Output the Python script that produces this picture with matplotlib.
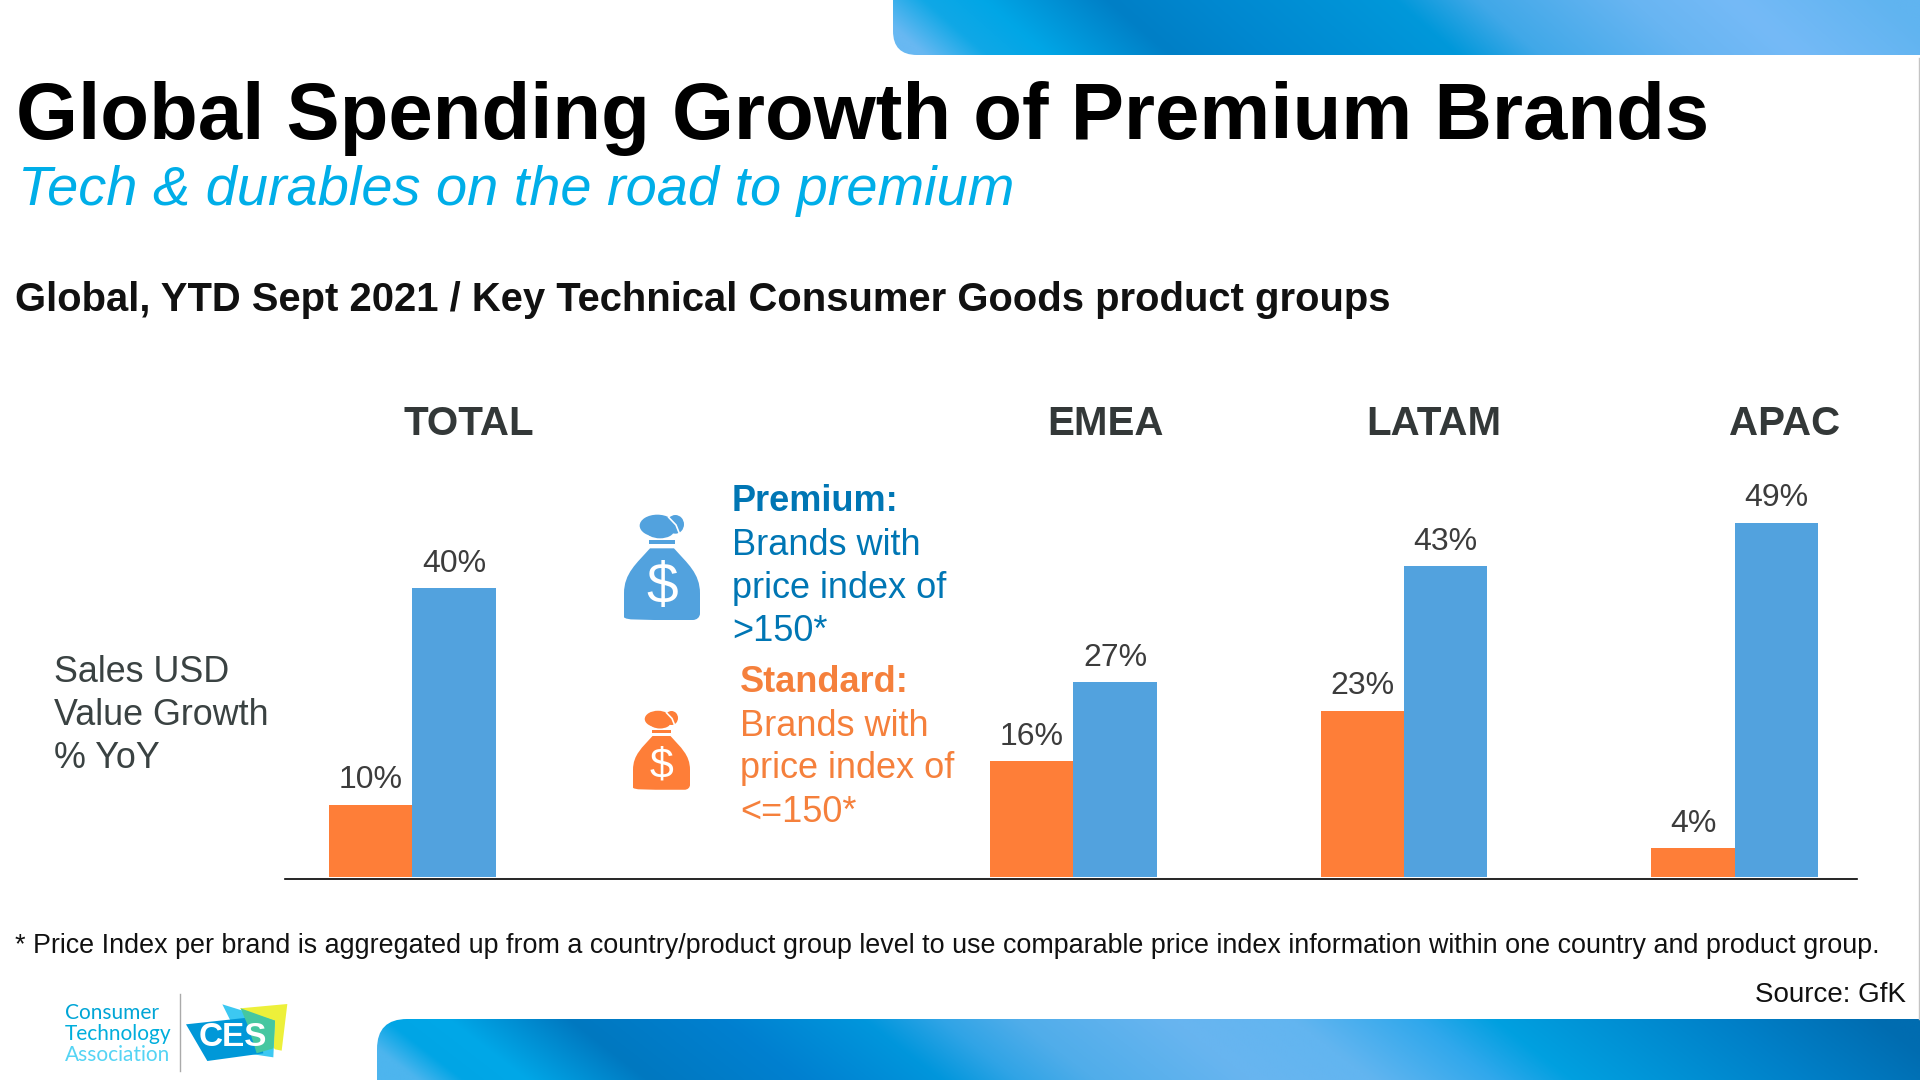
import matplotlib
matplotlib.use('Agg')
import matplotlib.pyplot as plt
import numpy as np
from matplotlib.patches import FancyBboxPatch, PathPatch, Polygon, Ellipse, Rectangle
from matplotlib.path import Path

plt.rcParams['font.family'] = ['Liberation Sans', 'DejaVu Sans']

# chart values
categories = ['TOTAL', '', 'EMEA', 'LATAM', 'APAC']
standard = [10, None, 16, 23, 4]
premium = [40, None, 27, 43, 49]

ORANGE = '#FE7E38'
BLUE = '#52A2DE'
W, H = 1920, 1080

fig = plt.figure(figsize=(19.2, 10.8), dpi=100, facecolor='white')

# overlay in pixel coords for slide furniture
bg = fig.add_axes([0, 0, 1, 1])
bg.set_xlim(0, W)
bg.set_ylim(H, 0)
bg.axis('off')


def band(x0, y0, x1, y1, radius, stops, skew, box_y0, box_y1):
    # gradient strip clipped to a rounded box that runs off the slide
    xs = np.linspace(0, 1, 500)
    ys = np.linspace(0, 1, 40)
    xx, yy = np.meshgrid(xs, ys)
    t = np.clip(xx - skew * (yy - 0.5), 0, 1)
    pos = [s[0] for s in stops]
    rgb = [matplotlib.colors.to_rgb(s[1]) for s in stops]
    img = np.dstack([np.interp(t, pos, [c[i] for c in rgb]) for i in range(3)])
    im = bg.imshow(img, extent=[x0, x1, y1, y0], aspect='auto', zorder=1, interpolation='bilinear')
    box = FancyBboxPatch((x0 + radius, box_y0 + radius), x1 - x0 + 60, box_y1 - box_y0 - 2 * radius,
                         boxstyle='round,pad=%d,rounding_size=%d' % (radius, radius),
                         transform=bg.transData, fc='none', ec='none')
    bg.add_patch(box)
    im.set_clip_path(box)


top_stops = [(0, '#68B8F2'), (0.06, '#10A8E6'), (0.12, '#00A6E6'), (0.24, '#007FC6'), (0.34, '#0088D0'),
             (0.52, '#0098DA'), (0.6, '#40A8E8'), (0.75, '#68B5F2'), (0.85, '#75BAF7'), (1, '#60B4F0')]
bottom_stops = [(0, '#4DB5EE'), (0.03, '#00A5E5'), (0.07, '#00A8E8'), (0.15, '#0078C0'), (0.25, '#0080D0'),
                (0.34, '#0096DC'), (0.39, '#30A4E6'), (0.44, '#50ADEA'), (0.54, '#68B5F0'), (0.62, '#62B5F0'),
                (0.7, '#30A8EC'), (0.75, '#00A0E0'), (0.9, '#0080C8'), (1, '#006CB0')]
band(893, 0, W, 55, 24, top_stops, 0.06, -60, 55)
band(377, 1019, W, H, 30, bottom_stops, 0.05, 1019, 1140)
bg.set_xlim(0, W)
bg.set_ylim(H, 0)
bg.plot([1918.5, 1918.5], [58, 1019], color='#C4C4C4', lw=1)

# headings
bg.text(16, 139, 'Global Spending Growth of Premium Brands', fontsize=57.4, fontweight='bold', color='black')
bg.text(18, 205, 'Tech & durables on the road to premium', fontsize=40.3, style='italic', color='#00AEE8')
bg.text(15, 311, 'Global, YTD Sept 2021 / Key Technical Consumer Goods product groups',
        fontsize=28.8, fontweight='bold', color='#111111')

# group titles are not quite centred over the bars in the original
title_x = [469, None, 1106, 1434, 1785]
for name, tx in zip(categories, title_x):
    if name:
        bg.text(tx, 435, name, fontsize=29, fontweight='bold', color='#333838', ha='center')

# axis caption
for line, y in zip(['Sales USD', 'Value Growth', '% YoY'], [682, 725, 768]):
    bg.text(54, y, line, fontsize=25.8, color='#3A4242')

# legend copy
prem_lines = ['Premium:', 'Brands with', 'price index of', '>150*']
std_lines = ['Standard:', 'Brands with', 'price index of', '<=150*']
for i, (line, y) in enumerate(zip(prem_lines, [511, 555, 598, 641])):
    bg.text(732, y, line, fontsize=26, color='#0076B4', fontweight='bold' if i == 0 else 'normal')
for i, (line, y) in enumerate(zip(std_lines, [692, 736, 778, 822])):
    bg.text(740, y, line, fontsize=26, color='#F5803C', fontweight='bold' if i == 0 else 'normal')


def money_bag(ox, oy, k, color, fs):
    # outline traced on a 3x crop, k scales it
    def p(x, y):
        return (ox + k * x, oy + k * y)
    verts = [p(150, 205), p(222, 205),
             p(262, 250), p(300, 280), p(300, 340),
             p(300, 370), p(300, 385), p(300, 400),
             p(300, 412), p(290, 420), p(278, 420),
             p(95, 420),
             p(82, 420), p(72, 412), p(72, 400),
             p(72, 385), p(72, 370), p(72, 340),
             p(72, 280), p(110, 250), p(150, 205)]
    codes = [Path.MOVETO, Path.LINETO] + [Path.CURVE4] * 12 + [Path.LINETO] + [Path.CURVE4] * 6
    bg.add_patch(PathPatch(Path(verts, codes), fc=color, ec='none', zorder=3))
    bg.add_patch(Rectangle(p(148, 180), 76 * k, 12 * k, fc=color, ec='none', zorder=3))
    bg.add_patch(Ellipse(p(172, 137), 106 * k, 66 * k, fc=color, ec='none', zorder=3))
    bg.add_patch(Ellipse(p(180, 152), 84 * k, 46 * k, fc=color, ec='none', zorder=3))
    bg.add_patch(Ellipse(p(226, 133), 52 * k, 56 * k, fc=color, ec='none', zorder=3))
    bg.plot(*zip(p(206, 112), p(228, 135), p(240, 165)), color='white', lw=1.2, zorder=4)
    cx, cy = p(186, 325)
    bg.text(cx, cy, '$', fontsize=fs, color='white', ha='center', va='center', zorder=5)


money_bag(600, 480, 1 / 3, BLUE, 41)
money_bag(615, 684.75, 0.25, ORANGE, 31)

# footer
bg.text(15, 953, '* Price Index per brand is aggregated up from a country/product group level to use '
        'comparable price index information within one country and product group.',
        fontsize=19.37, color='#111111')
bg.text(1906, 1002, 'Source: GfK', fontsize=20, color='#111111', ha='right')

# CTA / CES logo
for line, y, c in zip(['Consumer', 'Technology', 'Association'], [1019, 1040, 1061],
                      ['#00A5D6', '#00AEDC', '#55D4F4']):
    bg.text(65, y, line, fontsize=15, color=c, family='Lato')
bg.plot([179.5, 179.5], [994, 1071], color='#AAAAAA', lw=1)


def logo_pt(x, y):
    return (x / 3, 960 + y / 3)


bg.add_patch(Polygon([logo_pt(*q) for q in [(720, 145), (862, 132), (845, 272), (825, 268)]],
                     fc='#EDF03A', ec='none', zorder=3))
bg.add_patch(Polygon([logo_pt(*q) for q in [(667, 133), (825, 182), (820, 292), (740, 280)]],
                     fc='#3CC8F2', ec='none', zorder=3))
bg.add_patch(Polygon([logo_pt(*q) for q in [(558, 193), (770, 170), (790, 280), (622, 303)]],
                     fc='#0098D8', ec='none', zorder=4))
bg.add_patch(Polygon([logo_pt(*q) for q in [(722, 145), (825, 182), (820, 265), (770, 280), (745, 200)]],
                     fc='#45C7A0', ec='none', zorder=5))
cx, cy = logo_pt(699, 232)
bg.text(cx, cy, 'CES', fontsize=24, fontweight='bold', color='white', ha='center', va='center', zorder=6)

# bar chart, baseline sits at y=877
left, right, base, top = 285, 1857, 877, 443
ax = fig.add_axes([left / W, 1 - base / H, (right - left) / W, (base - top) / H])
ax.patch.set_alpha(0)
ax.set_xlim(-0.385, 4.37)
ax.set_ylim(0, 60)
bar_w = 0.252
x = np.arange(len(categories))
std_y = [np.nan if v is None else v for v in standard]
prem_y = [np.nan if v is None else v for v in premium]
b1 = ax.bar(x - bar_w / 2, std_y, bar_w, color=ORANGE, linewidth=0)
b2 = ax.bar(x + bar_w / 2, prem_y, bar_w, color=BLUE, linewidth=0)
for bars in (b1, b2):
    for r in bars:
        v = r.get_height()
        if np.isnan(v):
            continue
        ax.annotate('%d%%' % v, (r.get_x() + r.get_width() / 2, v), xytext=(0, 6.6),
                    textcoords='offset points', ha='center', va='bottom',
                    fontsize=23, color='#3C3C3C')

for s in ['top', 'left', 'right']:
    ax.spines[s].set_visible(False)
ax.spines['bottom'].set_position(('outward', 1.2))
ax.spines['bottom'].set_linewidth(1.2)
ax.set_xticks([])
ax.set_yticks([])

fig.savefig('out.png', dpi=100)
